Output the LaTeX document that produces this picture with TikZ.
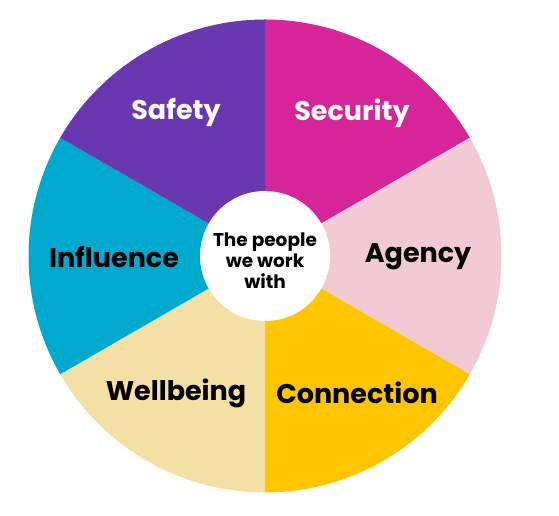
\documentclass[tikz,border=0pt]{standalone}
\usepackage{fontspec}
\setmainfont{Poppins}
\definecolor{cSecurity}{HTML}{D62598}
\definecolor{cAgency}{HTML}{F2CAD3}
\definecolor{cConnection}{HTML}{FFC600}
\definecolor{cWellbeing}{HTML}{F4E0A4}
\definecolor{cInfluence}{HTML}{00A9CE}
\definecolor{cSafety}{HTML}{6937B0}
\begin{document}
\begin{tikzpicture}[x=1pt,y=1pt,
  lbl/.style={font=\fontsize{27}{30}\selectfont\bfseries, inner sep=0pt},
  ctr/.style={font=\fontsize{18.5}{21}\selectfont\bfseries, align=center, inner sep=0pt}]
\useasboundingbox (0,0) rectangle (559,516);
\coordinate (c) at (265,260);
\def\R{236.5}
\fill[cSecurity]   (c) -- ++(90:\R) arc (90:30:\R) -- cycle;
\fill[cAgency]     (c) -- ++(30:\R) arc (30:-30:\R) -- cycle;
\fill[cConnection] (c) -- ++(-30:\R) arc (-30:-90:\R) -- cycle;
\fill[cWellbeing]  (c) -- ++(-90:\R) arc (-90:-150:\R) -- cycle;
\fill[cInfluence]  (c) -- ++(-150:\R) arc (-150:-210:\R) -- cycle;
\fill[cSafety]     (c) -- ++(150:\R) arc (150:90:\R) -- cycle;
\fill[white] (c) circle (65);
\node[lbl, text=white] (safety) at (176,403) {Safety};
\node[lbl, text=white] (security) at (352,403) {Security};
\node[lbl] (influence) at (114,259) {Influence};
\node[lbl] (agency) at (418,259) {Agency};
\node[lbl] (wellbeing) at (176,123) {Wellbeing};
\node[lbl] (connection) at (357,123) {Connection};
\node[ctr] (centre) at (265,255) {The people\\we work\\with};
\end{tikzpicture}
\end{document}
